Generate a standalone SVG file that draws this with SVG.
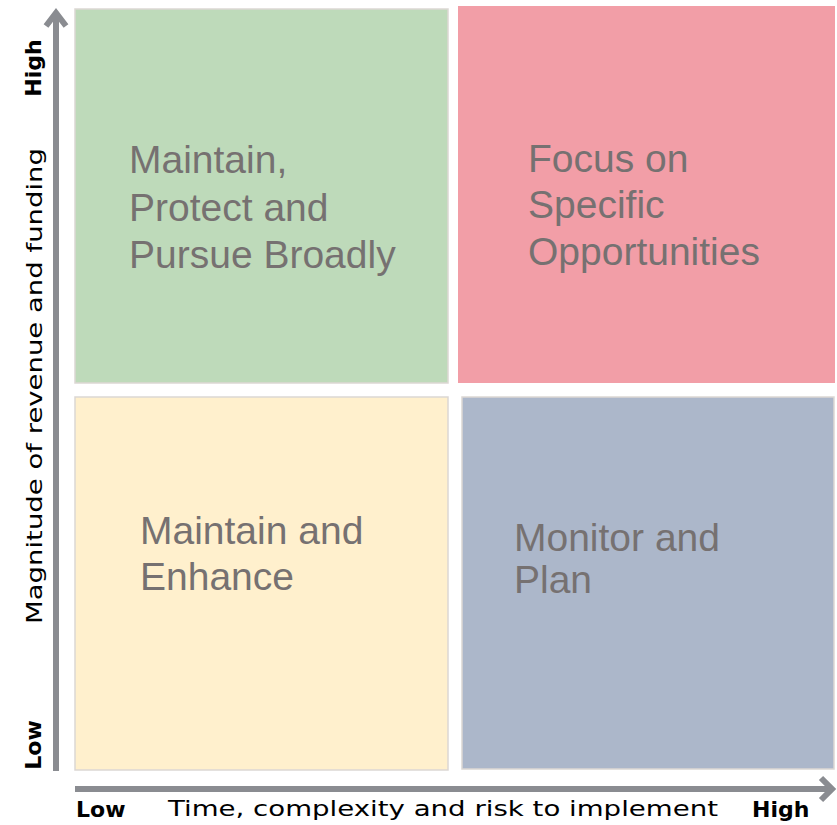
<svg xmlns="http://www.w3.org/2000/svg" width="837" height="825" viewBox="0 0 837 825">
<style>
.q{stroke:#dcd7d3;stroke-width:1.5}
.qt{font-family:"Liberation Sans",Arial,sans-serif;font-size:39px;fill:#767171}
.ax{fill:none;stroke:#8a8c91;stroke-width:6;stroke-linejoin:miter}
.al{font-family:"DejaVu Sans","Noto Sans",sans-serif;font-size:22px;fill:#000}
.lh{font-family:"DejaVu Sans","Noto Sans",sans-serif;font-size:22px;font-weight:bold;fill:#000}
</style>
<rect width="837" height="825" fill="#fff"/>
<g id="quad-maintain-protect">
<rect class="q" x="75" y="9" width="373" height="374" fill="#bedaba"/>
<text class="qt" x="129" y="173">Maintain,</text>
<text class="qt" x="129" y="221">Protect and</text>
<text class="qt" x="129" y="268">Pursue Broadly</text>
</g>
<g id="quad-focus">
<rect x="458" y="6" width="377" height="377" fill="#f29ea7"/>
<text class="qt" x="528" y="172">Focus on</text>
<text class="qt" x="528" y="218">Specific</text>
<text class="qt" x="528" y="265">Opportunities</text>
</g>
<g id="quad-maintain-enhance">
<rect class="q" x="75" y="397" width="373" height="373" fill="#fff0cd"/>
<text class="qt" x="140" y="544">Maintain and</text>
<text class="qt" x="140" y="590">Enhance</text>
</g>
<g id="quad-monitor">
<rect class="q" x="462" y="397" width="372" height="372" fill="#acb7ca"/>
<text class="qt" x="514" y="551">Monitor and</text>
<text class="qt" x="514" y="593">Plan</text>
</g>
<g id="connectors">
<path class="ax" d="M56 771 V12"/>
<path class="ax" d="M46 26 L56 13 L66 26"/>
<path class="ax" d="M75 789 H831"/>
<path class="ax" d="M821 778 L832 789 L821 800"/>
</g>
<g id="labels">
<text class="al" transform="translate(42,386) rotate(-90)" text-anchor="middle" textLength="476" lengthAdjust="spacingAndGlyphs">Magnitude of revenue and funding</text>
<text class="lh" transform="translate(41,68) rotate(-90)" text-anchor="middle">High</text>
<text class="lh" transform="translate(41,745) rotate(-90)" text-anchor="middle">Low</text>
<text class="lh" x="76" y="817">Low</text>
<text class="lh" x="752" y="817">High</text>
<text class="al" x="168" y="816" font-size="23" textLength="550" lengthAdjust="spacingAndGlyphs">Time, complexity and risk to implement</text>
</g>
</svg>
